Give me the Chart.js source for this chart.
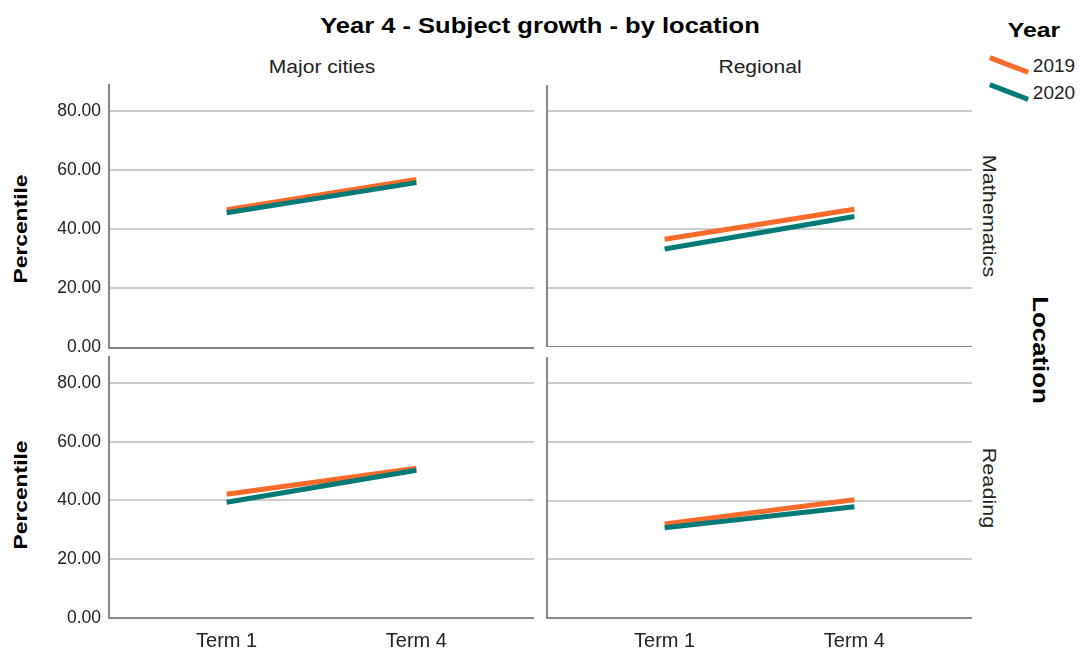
<!DOCTYPE html>
<html>
<head>
<meta charset="utf-8">
<title>Year 4 - Subject growth - by location</title>
<script src="https://cdn.jsdelivr.net/npm/chart.js@4.4.1/dist/chart.umd.min.js"></script>
<style>
  body { margin: 0; background: #fff; font-family: "Liberation Sans", Arial, sans-serif; color: #000; }
  #page { position: relative; width: 1080px; height: 653px; overflow: hidden; }
  .lbl { position: absolute; white-space: nowrap; line-height: 1; }
  .key { position: absolute; width: 41px; height: 5px; transform: translate(-50%, -50%) rotate(21deg); }
  canvas { position: absolute; }
</style>
</head>
<body>
<div id="page"></div>
<script>
// categories and series
const terms = ["Term 1", "Term 4"];
const years = ["2019", "2020"];
const locations = ["Major cities", "Regional"];
const subjects = ["Mathematics", "Reading"];
const yTicks = [0, 20, 40, 60, 80];

const mathMajor2019 = [46.6, 56.9];
const mathMajor2020 = [45.6, 55.8];
const mathRegional2019 = [36.6, 46.8];
const mathRegional2020 = [33.3, 44.3];
const readMajor2019 = [42.1, 51.0];
const readMajor2020 = [39.4, 50.3];
const readRegional2019 = [32.1, 40.3];
const readRegional2020 = [30.8, 37.9];

const ORANGE = "#fa6a2b";
const TEAL = "#007a76";
const GRID = "#cccccc";
const AXIS = "#858585";
const FONT = "'Liberation Sans', Arial, sans-serif";

const page = document.getElementById("page");

// the reference text runs a bit wider than Liberation Sans, so labels get a stretch
function addLabel(text, x, y, css, rotate, stretch) {
    const d = document.createElement("div");
    d.className = "lbl";
    d.textContent = text;
    d.style.cssText = "left:" + x + "px;top:" + y + "px;" + css;
    d.style.transform = "translate(-50%, -50%) rotate(" + (rotate || 0) + "deg) scaleX(" + (stretch || 1) + ")";
    page.appendChild(d);
    return d;
}

// titles and facet labels
addLabel("Year 4 - Subject growth - by location", 540, 26, "font-size:22px;font-weight:bold", 0, 1.16);
addLabel(locations[0], 322, 67, "font-size:18px;color:#222", 0, 1.17);
addLabel(locations[1], 760, 67, "font-size:18px;color:#222", 0, 1.17);
addLabel(subjects[0], 989, 216, "font-size:18px;color:#222", 90, 1.2);
addLabel(subjects[1], 989, 488, "font-size:18px;color:#222", 90, 1.2);
addLabel("Location", 1040, 350, "font-size:22px;font-weight:bold", 90, 1.17);
addLabel("Percentile", 20, 229, "font-size:19px;font-weight:bold", -90, 1.2);
addLabel("Percentile", 20, 495, "font-size:19px;font-weight:bold", -90, 1.2);

// legend
addLabel("Year", 1034, 29, "font-size:21px;font-weight:bold", 0, 1.18);
[[ORANGE, 65], [TEAL, 92]].forEach(function(k, i) {
    const line = document.createElement("div");
    line.className = "key";
    line.style.cssText = "left:1009px;top:" + k[1] + "px;background:" + k[0];
    page.appendChild(line);
    addLabel(years[i], 1054, k[1], "font-size:19px;color:#222");
});

function toPoints(values) {
    return values.map(function(v, i) { return {x: i, y: v}; });
}

function panelConfig(first, second, showY, showX) {
    return {
        type: "line",
        data: {
            datasets: [
                {label: years[0], data: toPoints(first), borderColor: ORANGE, order: 1},
                {label: years[1], data: toPoints(second), borderColor: TEAL, order: 0}
            ]
        },
        options: {
            responsive: false,
            animation: false,
            events: [],
            elements: {
                point: {radius: 0},
                line: {borderWidth: 5, tension: 0}
            },
            plugins: {
                legend: {display: false},
                tooltip: {enabled: false}
            },
            layout: {padding: 0},
            scales: {
                x: {
                    type: "linear",
                    min: -0.62,
                    max: 1.62,
                    afterBuildTicks: function(s) { s.ticks = [{value: 0}, {value: 1}]; },
                    grid: {display: false, drawTicks: false},
                    border: {display: true, color: AXIS, width: 2},
                    ticks: {
                        display: showX,
                        callback: function(v) { return terms[v]; },
                        font: {size: 20, family: FONT},
                        color: "#222",
                        padding: 11
                    }
                },
                y: {
                    min: 0,
                    max: 89,
                    afterBuildTicks: function(s) { s.ticks = yTicks.map(function(v) { return {value: v}; }); },
                    grid: {color: GRID, lineWidth: 2, drawTicks: false},
                    border: {color: AXIS, width: 2},
                    ticks: {
                        display: showY,
                        callback: function(v) { return v.toFixed(2); },
                        font: {size: 17.5, family: FONT},
                        color: "#222",
                        padding: 8
                    },
                    afterFit: function(s) { s.width = 70; }
                }
            }
        }
    };
}

// draw once to learn the margins round the plot area, then size the canvas so the
// plot area sits on the wanted box
function placePanel(box, makeConfig) {
    const canvas = document.createElement("canvas");
    canvas.width = box.w + 200;
    canvas.height = box.h + 200;
    page.appendChild(canvas);
    let chart = new Chart(canvas, makeConfig());
    const a = chart.chartArea;
    const m = {
        l: Math.round(a.left), t: Math.round(a.top),
        r: Math.round(canvas.width - a.right), b: Math.round(canvas.height - a.bottom)
    };
    chart.destroy();
    canvas.width = box.w + m.l + m.r;
    canvas.height = box.h + m.t + m.b;
    canvas.style.left = (box.x - m.l) + "px";
    canvas.style.top = (box.y - m.t) + "px";
    return new Chart(canvas, makeConfig());
}

placePanel({x: 109, y: 85, w: 425, h: 262}, function() { return panelConfig(mathMajor2019, mathMajor2020, true, false); });
placePanel({x: 547, y: 85, w: 425, h: 262}, function() { return panelConfig(mathRegional2019, mathRegional2020, false, false); });
placePanel({x: 109, y: 357, w: 425, h: 261}, function() { return panelConfig(readMajor2019, readMajor2020, true, true); });
placePanel({x: 547, y: 357, w: 425, h: 261}, function() { return panelConfig(readRegional2019, readRegional2020, false, true); });
</script>
</body>
</html>
